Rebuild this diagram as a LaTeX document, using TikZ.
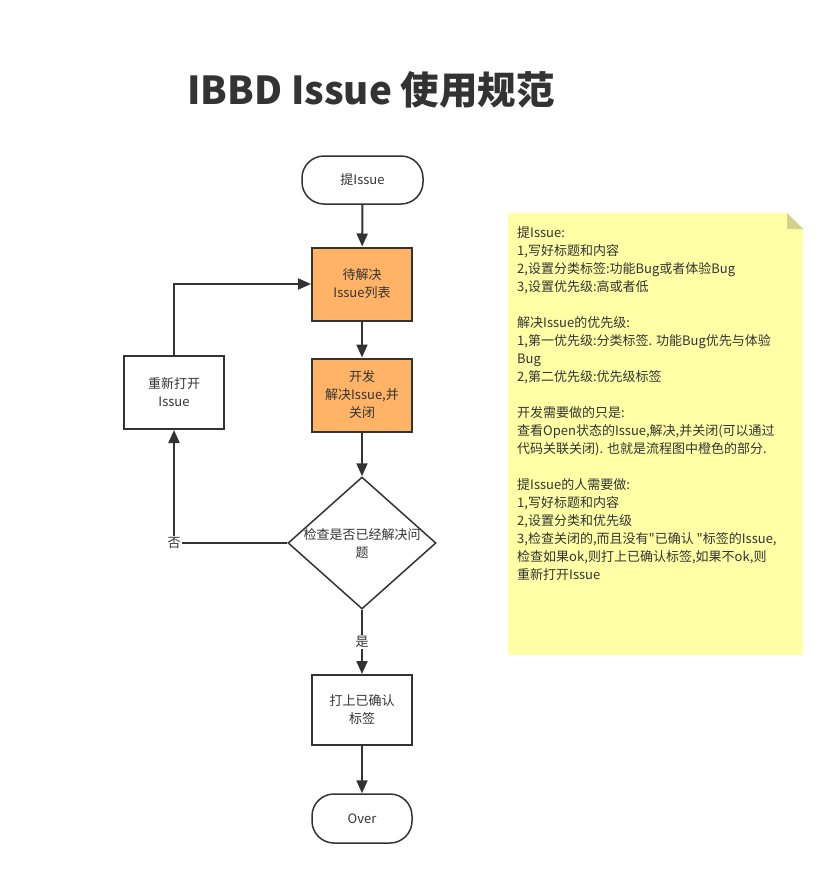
\documentclass[tikz,border=0pt]{standalone}
\usepackage{fontspec}
\setmainfont{Noto Sans CJK SC}
\newfontfamily\plainfont{Noto Sans CJK SC}
\usetikzlibrary{arrows.meta,shapes.geometric}
\definecolor{linegray}{HTML}{333333}
\definecolor{todoorange}{HTML}{FFB366}
\definecolor{notefill}{HTML}{FFFFA6}
\definecolor{notefold}{HTML}{D2D28C}
\begin{document}
\begin{tikzpicture}[x=1pt,y=-1pt,
  every node/.style={font=\fontsize{13}{18}\selectfont,text=linegray},
  terminal/.style={draw=linegray,line width=1.5pt,rounded corners=22pt,
    minimum width=100pt,minimum height=48pt,align=center},
  process/.style={draw=linegray,line width=2pt,minimum width=100pt,
    minimum height=73pt,align=center,inner sep=2pt},
  orangebox/.style={process,fill=todoorange},
  decision/.style={draw=linegray,line width=1.5pt,diamond,inner sep=0pt,
    minimum width=148pt,minimum height=132pt,align=center},
  lbl/.style={fill=white,inner sep=1pt},
  arrow/.style={draw=linegray,line width=2pt,-{Triangle[length=13pt,width=11pt]}}]
  \useasboundingbox (0,0) rectangle (836,876);
  % Title
  \node[anchor=base] (title) at (371,104)
    {\fontsize{38.5}{42}\selectfont\bfseries IBBD Issue 使用规范};
  % Flow
  \node[terminal,minimum width=121pt] (start) at (362.5,180) {提Issue};
  \node[orangebox] (todo) at (362,284) {待解决\\Issue列表};
  \node[orangebox] (dev) at (362,395) {开发\\解决Issue,并\\关闭};
  \node[decision] (check) at (362,543)
    {\makebox[0pt]{检查是否已经解决问}\\\makebox[0pt]{题}};
  \node[process] (reopen) at (174,392.5) {重新打开\\Issue};
  \node[process,minimum height=70pt] (confirm) at (362,710) {打上已确认\\标签};
  \node[terminal,minimum height=49pt] (over) at (362,818.5) {Over};
  \node[lbl] (no) at (reopen.south |- check.west) {否};
  % Connectors
  \draw[arrow] (start) -- (todo);
  \draw[arrow] (todo) -- (dev);
  \draw[arrow] (dev) -- (check);
  \draw[arrow] (check) -- node[lbl] {是} (confirm);
  \draw[arrow] (confirm) -- (over);
  \draw[draw=linegray,line width=2pt] (check.west) -- (no);
  \draw[arrow] (no) -- (reopen.south);
  \draw[arrow] (reopen.north) |- (todo.west);
  % Note
  \fill[notefill] (508,213) -- (787,213) -- (803,229) -- (803,655) -- (508,655) -- cycle;
  \fill[notefold] (787,213) -- (803,229) -- (787,229) -- cycle;
  \node[anchor=north west,inner sep=0pt,align=left] (note) at (517,226)
    {提Issue:\\
     1,写好标题和内容\\
     2,设置分类标签:功能Bug或者体验Bug\\
     3,设置优先级:高或者低\\[18pt]
     解决Issue的优先级:\\
     1,第一优先级:分类标签. 功能Bug优先与体验\\
     Bug\\
     2,第二优先级:优先级标签\\[18pt]
     开发需要做的只是:\\
     查看Open状态的Issue,解决,并关闭(可以通过\\
     代码关联关闭). 也就是流程图中橙色的部分.\\[18pt]
     提Issue的人需要做:\\
     1,写好标题和内容\\
     2,设置分类和优先级\\
     3,检查关闭的,而且没有{\plainfont"}已确认 {\plainfont"}标签的Issue,\\
     检查如果ok,则打上已确认标签,如果不ok,则\\
     重新打开Issue};
\end{tikzpicture}
\end{document}
